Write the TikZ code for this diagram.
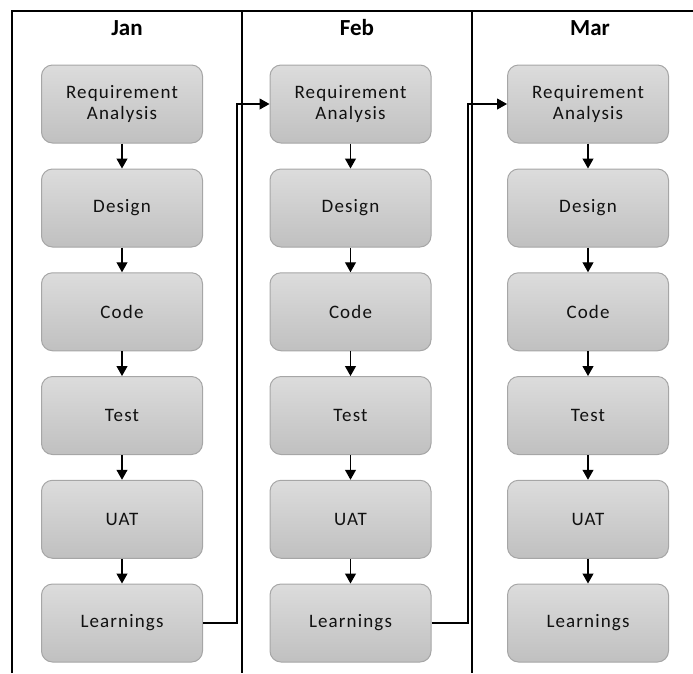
\documentclass[tikz,border=0pt]{standalone}
\usepackage{fontspec}
\setmainfont{Carlito}
\newfontfamily\nodefont[LetterSpace=6]{Carlito}
\newfontfamily\headfont{Carlito}
\usetikzlibrary{arrows.meta,positioning}
\definecolor{boxtop}{HTML}{DCDCDC}
\definecolor{boxbot}{HTML}{C0C0C0}
\definecolor{boxline}{HTML}{A6A6A6}
\definecolor{txt}{HTML}{111111}
\begin{document}
\begin{tikzpicture}[x=1pt,y=-1pt,
  stage/.style={draw=boxline,line width=1pt,rounded corners=11pt,top color=boxtop,bottom color=boxbot,
    minimum width=161pt,minimum height=78pt,inner sep=0pt,align=center,
    font=\nodefont\fontsize{19}{21}\selectfont,text=txt},
  head/.style={font=\headfont\bfseries\fontsize{23}{26}\selectfont,text=black},
  frame/.style={line width=1.6pt,black},
  flow/.style={line width=1.2pt,black,-{Triangle[length=10pt,width=11pt]}},
  link/.style={line width=1.1pt,black,-{Triangle[length=10pt,width=11pt]}}]
\useasboundingbox (0,0) rectangle (693,673);
% frame
\draw[frame] (12,673) -- (12,11) -- (693,11);
\draw[frame] (242,11) -- (242,673);
\draw[frame] (472,11) -- (472,673);
% headers
\node[head] (hJan) at (127,28) {Jan};
\node[head] (hFeb) at (357,28) {Feb};
\node[head] (hMar) at (590,28) {Mar};
% columns
\foreach \c/\x in {J/122, F/350.5, M/588}{
  \node[stage] (\c1) at (\x,104) {Requirement\\Analysis};
  \node[stage] (\c2) at (\x,208) {Design};
  \node[stage] (\c3) at (\x,311.75) {Code};
  \node[stage] (\c4) at (\x,415.5) {Test};
  \node[stage] (\c5) at (\x,519.25) {UAT};
  \node[stage] (\c6) at (\x,623) {Learnings};
  \draw[flow] (\c1) -- (\c2);
  \draw[flow] (\c2) -- (\c3);
  \draw[flow] (\c3) -- (\c4);
  \draw[flow] (\c4) -- (\c5);
  \draw[flow] (\c5) -- (\c6);
}
% links between months
\coordinate (jb) at (237,623);
\coordinate (jt) at (237,104);
\coordinate (fb) at (468,623);
\coordinate (ft) at (468,104);
\draw[link] (J6.east) -- (jb) -- (jt) -- (F1.west);
\draw[link] (F6.east) -- (fb) -- (ft) -- (M1.west);
\end{tikzpicture}
\end{document}
